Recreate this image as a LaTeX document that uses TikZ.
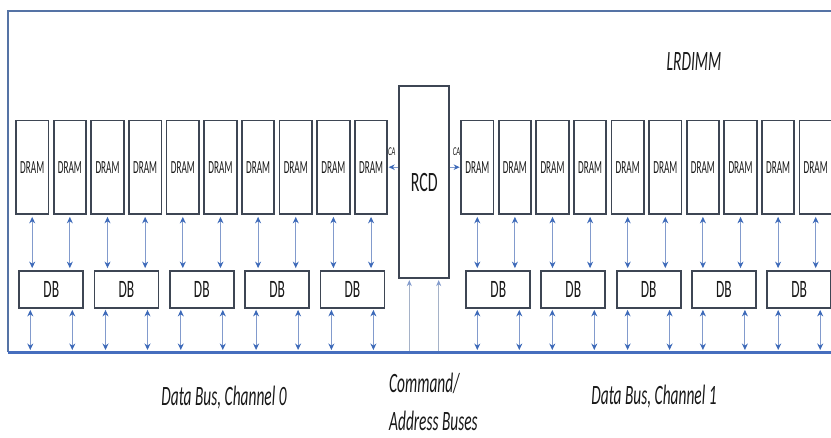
\documentclass[tikz,border=0pt]{standalone}
\usepackage{fontspec}
\setmainfont{Carlito}
\usetikzlibrary{arrows.meta}
\definecolor{boxline}{RGB}{62,70,84}
\definecolor{tipblue}{RGB}{60,105,185}
\definecolor{shaftblue}{RGB}{130,155,205}
\definecolor{busblue}{RGB}{70,110,190}
\definecolor{frameblue}{RGB}{85,115,165}
\definecolor{cmdgray}{RGB}{165,178,200}
\definecolor{textc}{RGB}{25,25,25}
\newcommand{\hs}[2]{\scalebox{#1}[1]{#2}}
\begin{document}
\begin{tikzpicture}[x=1pt,y=-1pt,
  dram/.style={draw=boxline, line width=1.8pt, minimum width=32.5pt, minimum height=93.5pt, inner sep=0pt, fill=white, text=textc, font=\fontsize{18.5}{20}\selectfont},
  dbbox/.style={draw=boxline, line width=1.8pt, minimum width=64pt, minimum height=37pt, inner sep=0pt, fill=white, text=textc, font=\fontsize{25}{28}\selectfont},
  rcdbox/.style={draw=boxline, line width=1.8pt, minimum width=50pt, minimum height=192pt, inner sep=0pt, fill=white, text=textc, font=\fontsize{28}{30}\selectfont},
  biarrow/.style={draw=shaftblue, line width=1pt, {Stealth[length=6.5pt,width=6pt,color=tipblue]}-{Stealth[length=6.5pt,width=6pt,color=tipblue]}},
  caarrow/.style={draw=shaftblue, line width=1.2pt, -{Stealth[length=6pt,width=5.5pt,color=tipblue]}},
  cmdarrow/.style={draw=cmdgray, line width=1pt, -{Stealth[length=6pt,width=5pt,color=shaftblue]}},
  frameline/.style={draw=frameblue, line width=2.4pt},
  busline/.style={draw=busblue, line width=3pt},
  lbl/.style={text=textc, inner sep=0pt, font=\fontsize{28}{34}\selectfont\itshape},
  calbl/.style={text=textc, inner sep=0pt, font=\fontsize{12}{14}\selectfont\itshape}]
\useasboundingbox (0,0) rectangle (831,437);
\fill[white] (0,0) rectangle (831,437);
\begin{scope}
\clip (0,0) rectangle (831,437);
% frame
\coordinate (topL) at (8,11);
\coordinate (topR) at (840,11);
\coordinate (bus) at (8,352);
\coordinate (busR) at (840,352);
\draw[frameline] (bus) -- (topL) -- (topR);
\draw[busline] (bus) -- (busR);
% DRAMs
\foreach \i in {0,...,9} {
  \node[dram] (L\i) at ({32.2+37.65*\i},167.2) {\hs{0.5}{DRAM}};
  \node[dram] (R\i) at ({477.3+37.6*\i},167.2) {\hs{0.5}{DRAM}};
}
% DBs
\foreach \j/\x in {0/51.3,1/126.5,2/201.8,3/277.1,4/352.4}
  \node[dbbox] (DL\j) at (\x,289.5) {\hs{0.54}{DB}};
\foreach \j/\x in {0/498.3,1/573.3,2/648.6,3/723.9,4/799.2}
  \node[dbbox] (DR\j) at (\x,289.5) {\hs{0.54}{DB}};
% RCD
\node[rcdbox] (rcd) at (424.3,182.2) {\hs{0.57}{RCD}};
% DRAM - DB arrows
\foreach \i in {0,...,9} {
  \pgfmathtruncatemacro{\k}{int(\i/2)}
  \draw[biarrow, shorten <=2pt, shorten >=2pt] (L\i.south) -- (L\i.south |- DL\k.north);
  \draw[biarrow, shorten <=2pt, shorten >=2pt] (R\i.south) -- (R\i.south |- DR\k.north);
}
% DB - bus arrows
\foreach \j in {0,...,4} {
  \coordinate (DLa\j) at ([xshift=-21pt]DL\j.south);
  \coordinate (DLb\j) at ([xshift=21pt]DL\j.south);
  \coordinate (DRa\j) at ([xshift=-21pt]DR\j.south);
  \coordinate (DRb\j) at ([xshift=21pt]DR\j.south);
  \draw[biarrow, shorten <=1pt, shorten >=2pt] (DLa\j) -- (DLa\j |- bus);
  \draw[biarrow, shorten <=1pt, shorten >=2pt] (DLb\j) -- (DLb\j |- bus);
  \draw[biarrow, shorten <=1pt, shorten >=2pt] (DRa\j) -- (DRa\j |- bus);
  \draw[biarrow, shorten <=1pt, shorten >=2pt] (DRb\j) -- (DRb\j |- bus);
}
% CA arrows
\draw[caarrow, shorten >=0.5pt] (rcd.west |- L9.east) -- (L9.east);
\draw[caarrow, shorten >=0.5pt] (rcd.east |- R0.west) -- (R0.west);
\node[calbl] (cal) at (391.7,152) {\hs{0.55}{CA}};
\node[calbl] (car) at (456.5,152) {\hs{0.55}{CA}};
% command / address arrows
\coordinate (cmd1) at (409.3,351);
\coordinate (cmd2) at (438.7,351);
\draw[cmdarrow, shorten >=1pt] (cmd1) -- (cmd1 |- rcd.south);
\draw[cmdarrow, shorten >=1pt] (cmd2) -- (cmd2 |- rcd.south);
% labels
\node[lbl] (lrdimm) at (694,62) {\hs{0.55}{LRDIMM}};
\node[lbl] (ch0) at (224,398) {\hs{0.55}{Data Bus, Channel 0}};
\node[lbl] (ch1) at (654,397) {\hs{0.55}{Data Bus, Channel 1}};
\node[lbl, anchor=base west] (cmdt1) at (389,392) {\hs{0.55}{Command/}};
\node[lbl, anchor=base west] (cmdt2) at (389,430) {\hs{0.55}{Address Buses}};
\end{scope}
\end{tikzpicture}
\end{document}
